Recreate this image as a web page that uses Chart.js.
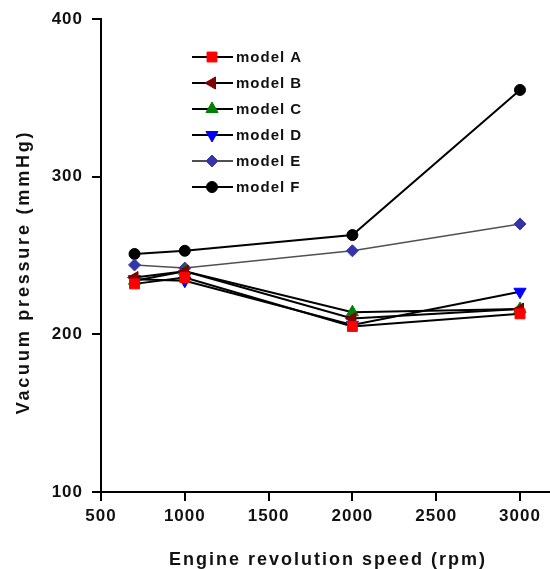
<!DOCTYPE html>
<html>
<head>
<meta charset="utf-8">
<script src="https://cdn.jsdelivr.net/npm/chart.js@4/dist/chart.umd.min.js"></script>
<style>
  html, body { margin: 0; padding: 0; background: #fff; }
  #wrap { width: 550px; height: 569px; position: relative; }
</style>
</head>
<body>
<div id="wrap"><canvas id="c"></canvas></div>
<script>
// engine speed (rpm)
const speeds = [700, 1000, 2000, 3000];

// vacuum pressure (mmHg) per model
const modelA = [232, 236, 205, 213];
const modelB = [236, 240, 210, 216];
const modelC = [234, 240, 214, 216];
const modelD = [235, 234, 206, 227];
const modelE = [244, 242, 253, 270];
const modelF = [251, 253, 263, 355];

const seriesNames = ['model A', 'model B', 'model C', 'model D', 'model E', 'model F'];
const yTicks = [100, 200, 300, 400];
const xTicks = [500, 1000, 1500, 2000, 2500, 3000];

const FONT = '"Liberation Sans", Arial, sans-serif';

function pts(vals) {
  return speeds.map((s, i) => ({ x: s, y: vals[i] }));
}

function mkSet(name, vals, line, mark, style, rot, r, lw) {
  return {
    label: name,
    data: pts(vals),
    showLine: true,
    clip: false,
    borderColor: line,
    borderWidth: lw,
    pointBackgroundColor: mark,
    pointBorderColor: mark,
    pointBorderWidth: 1,
    pointStyle: style,
    pointRotation: rot,
    pointRadius: r,
    pointHoverRadius: r
  };
}

const datasets = [
  mkSet(seriesNames[0], modelA, '#000', '#ff0000', 'rect', 0, 7, 2),
  mkSet(seriesNames[1], modelB, '#000', '#800000', 'triangle', -90, 7, 2),
  mkSet(seriesNames[2], modelC, '#000', '#008000', 'triangle', 0, 7, 2),
  mkSet(seriesNames[3], modelD, '#000', '#0000ff', 'triangle', 180, 7, 2),
  mkSet(seriesNames[4], modelE, '#505050', '#3535a8', 'rectRot', 0, 6, 1.5),
  mkSet(seriesNames[5], modelF, '#000', '#000000', 'circle', 0, 5.5, 2)
];

// wider letter spacing like the original figure
const spacing = {
  id: 'spacing',
  beforeDraw(chart) { chart.ctx.letterSpacing = '1px'; }
};

// legend drawn inside the plot: line - marker - line, then the name
const insideLegend = {
  id: 'insideLegend',
  afterDatasetsDraw(chart) {
    const ctx = chart.ctx;
    ctx.save();
    chart.data.datasets.forEach((ds, i) => {
      const y = 57 + i * 26;
      ctx.strokeStyle = ds.borderColor;
      ctx.lineWidth = 2;
      ctx.beginPath();
      ctx.moveTo(192, y);
      ctx.lineTo(233, y);
      ctx.stroke();
      ctx.fillStyle = ds.pointBackgroundColor;
      ctx.strokeStyle = ds.pointBorderColor;
      ctx.lineWidth = 1;
      Chart.helpers.drawPoint(ctx, {
        pointStyle: ds.pointStyle,
        rotation: ds.pointRotation,
        radius: ds.pointRadius,
        borderWidth: 1
      }, 212, y);
      ctx.fillStyle = '#111';
      ctx.letterSpacing = '1px';
      ctx.font = 'bold 15px ' + FONT;
      ctx.textBaseline = 'middle';
      ctx.textAlign = 'left';
      ctx.fillText(ds.label, 236, y + 1);
    });
    ctx.restore();
  }
};

// axis titles placed where the reference has them
const axisTitles = {
  id: 'axisTitles',
  afterDraw(chart) {
    const ctx = chart.ctx;
    ctx.save();
    ctx.fillStyle = '#111';
    ctx.font = 'bold 18px ' + FONT;
    ctx.textAlign = 'center';
    ctx.textBaseline = 'middle';
    ctx.letterSpacing = '2px';
    ctx.fillText('Engine revolution speed (rpm)', 328, 560);
    ctx.translate(24, 272);
    ctx.rotate(-Math.PI / 2);
    ctx.letterSpacing = '2.8px';
    ctx.fillText('Vacuum pressure (mmHg)', 0, 0);
    ctx.restore();
  }
};

const tickFont = { family: FONT, size: 17, weight: 'bold' };

new Chart(document.getElementById('c'), {
  type: 'scatter',
  data: { datasets: datasets },
  plugins: [spacing, insideLegend, axisTitles],
  options: {
    responsive: true,
    maintainAspectRatio: false,
    animation: false,
    layout: { autoPadding: false, padding: { top: 19, right: 0, bottom: 0, left: 0 } },
    plugins: { legend: { display: false }, tooltip: { enabled: false } },
    scales: {
      x: {
        type: 'linear',
        min: 500,
        max: 3179,
        afterBuildTicks(s) { s.ticks = xTicks.map(v => ({ value: v })); },
        afterFit(s) { s.height = 77; s.paddingLeft = 0; s.paddingRight = 0; },
        border: { display: true, color: '#000', width: 2 },
        grid: { drawOnChartArea: false, drawTicks: true, tickLength: 9, color: '#000', lineWidth: 2 },
        ticks: { color: '#111', padding: 5, font: tickFont, maxRotation: 0, callback: v => String(v) }
      },
      y: {
        min: 100,
        max: 400,
        afterBuildTicks(s) { s.ticks = yTicks.map(v => ({ value: v })); },
        afterFit(s) { s.width = 101; s.paddingTop = 0; s.paddingBottom = 0; },
        border: { display: true, color: '#000', width: 2 },
        grid: { drawOnChartArea: false, drawTicks: true, tickLength: 9, color: '#000', lineWidth: 2 },
        ticks: { color: '#111', padding: 9, font: tickFont, callback: v => String(v) }
      }
    }
  }
});
</script>
</body>
</html>
